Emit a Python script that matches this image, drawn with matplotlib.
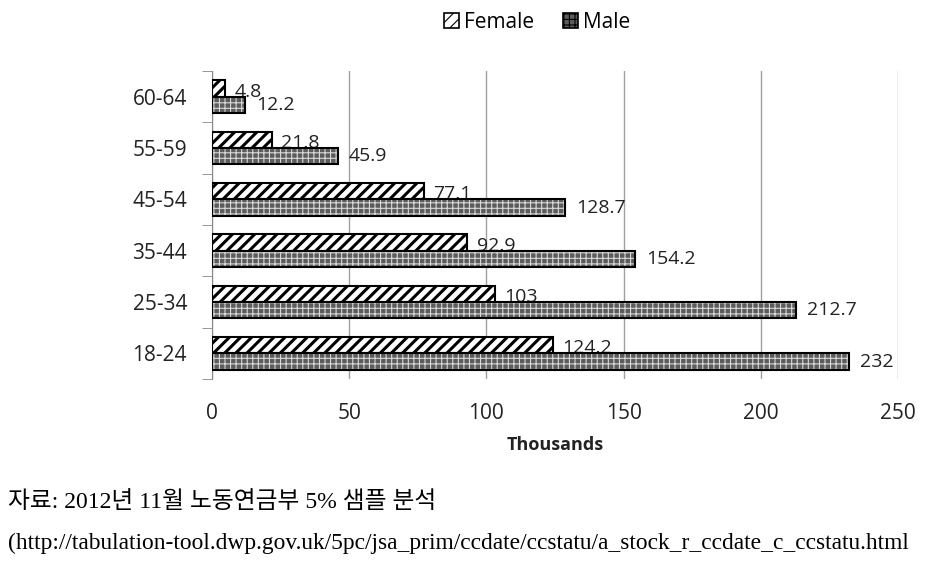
import matplotlib
matplotlib.use("Agg")
import matplotlib.pyplot as plt
import numpy as np

categories = ["18-24", "25-34", "35-44", "45-54", "55-59", "60-64"]
female = [124.2, 103, 92.9, 77.1, 21.8, 4.8]
male = [232, 212.7, 154.2, 128.7, 45.9, 12.2]
female_labels = ["124.2", "103", "92.9", "77.1", "21.8", "4.8"]
male_labels = ["232", "212.7", "154.2", "128.7", "45.9", "12.2"]
xticks = [0, 50, 100, 150, 200, 250]
xlabel = "Thousands"
note1 = "자료: 2012년 11월 노동연금부 5% 샘플 분석"
note2 = "(http://tabulation-tool.dwp.gov.uk/5pc/jsa_prim/ccdate/ccstatu/a_stock_r_ccdate_c_ccstatu.html"

plt.rcParams['font.family'] = ['Open Sans', 'DejaVu Sans']
plt.rcParams['hatch.linewidth'] = 2.2

fig = plt.figure(figsize=(9.39, 5.64), dpi=100)
ax = fig.add_axes([212/939, 1-379/564, 686/939, 308/564])

y = np.arange(len(categories))
h = 0.32

# female bars (top of each pair)
ax.barh(y + h/2, female, height=h, color='white', edgecolor='black', hatch='///', linewidth=0, zorder=2)
ax.barh(y + h/2, female, height=h, color='none', edgecolor='black', linewidth=1.5, zorder=3)
# male bars
plt.rcParams['hatch.linewidth'] = 0.8
ax.barh(y - h/2, male, height=h, color='#5c5c5c', edgecolor='#d8d8d8', hatch='+++', linewidth=0, zorder=5)
ax.barh(y - h/2, male, height=h, color='none', edgecolor='black', linewidth=1.5, zorder=6)

for yi, v, s in zip(y, female, female_labels):
    ax.text(v + 3.5, yi + h/2 - 0.06, s, va='center', ha='left', fontsize=14, color='#222222', zorder=4)
for yi, v, s in zip(y, male, male_labels):
    ax.text(v + 4.0, yi - h/2, s, va='center', ha='left', fontsize=14, color='#222222', zorder=7)

ax.set_xlim(0, 250)
ax.set_ylim(-0.5, len(categories) - 0.5)
ax.set_xticks(xticks)
ax.set_xticklabels([str(t) for t in xticks], fontsize=15, color='#222222')
ax.set_yticks(y)
ax.set_yticklabels(categories, fontsize=15, color='#222222')
ax.set_yticks(np.arange(-0.5, len(categories), 1), minor=True)
ax.tick_params(axis='y', which='major', length=0, pad=18)
ax.tick_params(axis='y', which='minor', length=7, color='#888888')
ax.tick_params(axis='x', length=0, pad=17)
ax.grid(axis='x', color='#a0a0a0', linewidth=1, zorder=0)
ax.set_axisbelow(True)
for sp in ['top', 'right', 'bottom']:
    ax.spines[sp].set_visible(False)
ax.spines['left'].set_color('#888888')
ax.set_xlabel(xlabel, fontsize=13, fontweight='bold', labelpad=9, color='#222222')

from matplotlib.patches import Patch
handles = [Patch(facecolor='white', edgecolor='black', hatch='///', linewidth=1.2, label='Female'),
           Patch(facecolor='#5c5c5c', edgecolor='black', hatch='+++', linewidth=1.2, label='Male')]
leg = fig.legend(handles=handles, loc='center', bbox_to_anchor=(537/939, 1-22/564), ncol=2,
                 frameon=False, fontsize=15, handlelength=0.7, handleheight=0.7,
                 handletextpad=0.25, columnspacing=1.4)

serif = ['Liberation Serif', 'Noto Sans CJK KR']
t1 = fig.text(8/939, 1-502/564, note1, family=serif, fontsize=13, va='center', ha='left')
t2 = fig.text(8/939, 1-543/564, note2, family=serif, fontsize=13, va='center', ha='left')
fig.canvas.draw()
r = fig.canvas.get_renderer()
for t, target in [(t1, 429), (t2, 897)]:
    w = t.get_window_extent(r).width
    t.set_fontsize(13 * target / w)

fig.savefig("out.png", dpi=100)
